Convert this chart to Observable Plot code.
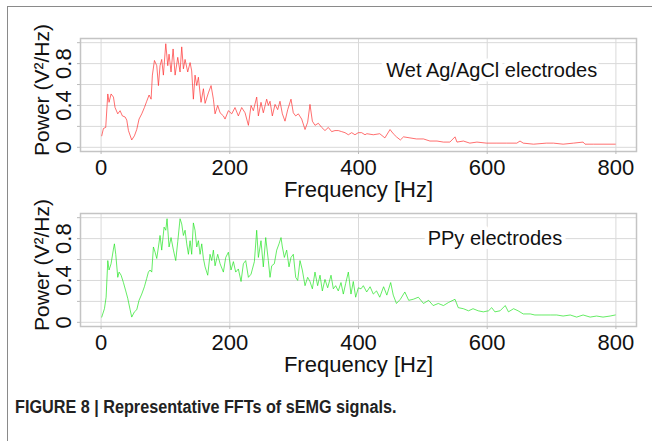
<!DOCTYPE html>
<html>
<head>
<meta charset="utf-8">
<script src="https://cdn.jsdelivr.net/npm/d3@7"></script>
<script src="https://cdn.jsdelivr.net/npm/@observablehq/plot@0.6"></script>
<style>
  html, body { margin: 0; padding: 0; background: #fff; }
  #page { position: relative; width: 652px; height: 441px; overflow: hidden; background: #fff; }
  #border { position: absolute; left: 7px; top: 6px; width: 700px; height: 500px;
            border-left: 1.5px solid #8a8a8a; border-top: 1.5px solid #8a8a8a; }
  .panel { position: absolute; left: 0; }
  #caption { position: absolute; left: 15px; top: 397px; font-family: "Liberation Sans Narrow", "Arial Narrow", "Liberation Sans", Arial, sans-serif;
             font-weight: bold; font-size: 18px; line-height: 1.117; color: #222; white-space: nowrap;
             transform: scaleX(0.9); transform-origin: left top; }
</style>
</head>
<body>
<div id="page">
  <div id="border"></div>
  <div id="p1" class="panel" style="top:0px"></div>
  <div id="p2" class="panel" style="top:175px"></div>
  <div id="caption">FIGURE 8 | Representative FFTs of sEMG signals.</div>
</div>
<script>
// ---- data ----
const wetFreq = [1.0,3.6,7.2,10.4,12.4,15.5,19.2,21.7,25.9,29.5,33.1,37.3,39.9,42.5,47.6,51.8,55.4,59.0,63.2,67.3,70.9,74.6,77.7,79.7,82.9,86.5,89.1,91.6,94.2,96.8,100.5,103.6,105.6,108.7,111.9,115.0,119.1,122.7,125.3,127.9,130.5,134.6,138.3,140.8,143.4,146.0,148.6,151.2,155.3,159.0,161.6,166.7,170.9,174.5,177.1,181.2,184.9,190.0,
  192.6,197.8,203.0,208.1,213.3,218.5,223.7,228.9,233.0,236.6,241.8,244.4,248.5,252.1,257.3,259.9,262.5,266.1,270.3,274.4,278.0,281.7,285.8,290.0,295.1,298.7,302.4,306.5,311.7,316.9,321.0,324.6,328.3,332.4,337.6,342.8,347.9,353.1,358.3,363.5,368.6,373.8,379.0,384.2,389.4,394.5,399.7,404.9,410.1,
  413,423,433,441,449,454,459,465,470,480,490,501,511,522,532,542,550,553,563,573,584,599,615,630,646,651,656,672,692,703,718,734,749,752,765,780,799];
const wetPower = [0.11,0.18,0.19,0.51,0.43,0.51,0.48,0.38,0.32,0.35,0.30,0.29,0.26,0.16,0.07,0.11,0.17,0.27,0.32,0.38,0.44,0.50,0.46,0.69,0.83,0.78,0.59,0.78,0.84,0.69,0.99,0.78,0.89,0.72,0.94,0.69,0.86,0.72,0.96,0.75,0.84,0.72,0.81,0.73,0.46,0.69,0.59,0.67,0.43,0.56,0.42,0.52,0.59,0.46,0.32,0.40,0.33,0.30,
  0.27,0.35,0.32,0.38,0.30,0.38,0.33,0.21,0.40,0.35,0.48,0.30,0.43,0.33,0.46,0.40,0.44,0.30,0.41,0.36,0.44,0.32,0.25,0.36,0.46,0.33,0.30,0.32,0.27,0.17,0.24,0.41,0.25,0.21,0.23,0.19,0.16,0.19,0.15,0.16,0.16,0.15,0.14,0.12,0.14,0.12,0.14,0.14,0.12,
  0.13,0.12,0.13,0.09,0.17,0.13,0.10,0.07,0.10,0.09,0.08,0.08,0.06,0.06,0.05,0.05,0.10,0.05,0.06,0.04,0.05,0.04,0.04,0.04,0.04,0.06,0.04,0.03,0.04,0.04,0.03,0.04,0.05,0.03,0.03,0.03,0.03];

const ppyFreq = [1.0,5.2,7.8,10.4,12.4,15.5,19.2,20.7,22.8,25.9,28.0,31.1,34.7,38.3,41.4,45.1,47.6,51.8,55.4,59.0,63.2,67.3,70.9,73.5,76.1,78.7,81.3,83.9,86.5,89.1,91.6,94.2,97.9,100.5,102.5,105.6,108.7,112.4,116.0,119.1,122.7,125.3,127.9,130.5,133.1,135.7,138.3,140.8,143.4,146.0,148.6,151.2,153.8,156.4,159.0,161.6,165.7,169.3,171.9,174.5,177.1,181.2,184.9,190.0,193.7,
  197.8,201.9,205.6,209.2,213.3,217.5,221.1,224.7,228.9,233.0,238.2,241.8,244.4,248.5,252.1,255.8,259.9,262.5,265.1,269.2,272.9,276.5,279.6,281.7,284.8,288.4,292.0,295.1,298.7,302.4,305.5,309.1,312.7,316.9,321.0,324.6,328.3,332.4,336.5,340.2,343.8,347.9,352.1,357.3,360.9,364.5,368.6,372.8,376.4,380.0,384.2,388.3,391.9,395.6,399.7,403.9,407.5,412.7,
  418,423,428,433,439,444,450,454,459,465,472,478,485,493,501,509,516,524,532,540,550,555,563,571,578,586,594,602,607,612,620,628,633,641,648,656,667,674,685,698,708,718,729,739,749,760,770,780,791,799];
const ppyPower = [0.05,0.13,0.24,0.59,0.50,0.56,0.70,0.75,0.65,0.43,0.48,0.45,0.38,0.30,0.23,0.12,0.05,0.10,0.12,0.21,0.27,0.34,0.42,0.48,0.50,0.48,0.72,0.67,0.61,0.72,0.83,0.69,0.91,0.88,0.99,0.72,0.81,0.69,0.59,0.77,0.99,0.94,0.83,0.88,0.75,0.65,0.78,0.65,0.95,0.88,0.72,0.78,0.65,0.75,0.61,0.53,0.45,0.65,0.59,0.69,0.54,0.65,0.56,0.48,0.62,
  0.67,0.50,0.58,0.48,0.51,0.39,0.56,0.59,0.43,0.46,0.58,0.88,0.62,0.78,0.53,0.81,0.59,0.43,0.54,0.56,0.69,0.75,0.81,0.72,0.62,0.69,0.53,0.62,0.65,0.43,0.40,0.59,0.50,0.35,0.43,0.39,0.32,0.48,0.35,0.45,0.30,0.41,0.33,0.45,0.32,0.35,0.30,0.38,0.27,0.37,0.48,0.27,0.39,0.24,0.33,0.32,0.35,0.29,
  0.34,0.27,0.30,0.24,0.34,0.26,0.38,0.26,0.18,0.22,0.29,0.21,0.22,0.24,0.18,0.21,0.16,0.18,0.16,0.19,0.22,0.14,0.13,0.11,0.13,0.11,0.10,0.11,0.14,0.10,0.11,0.16,0.10,0.13,0.11,0.08,0.08,0.07,0.07,0.07,0.07,0.06,0.07,0.05,0.07,0.05,0.06,0.05,0.06,0.07];

const xTicks = [0, 200, 400, 600, 800];
const yGrid = [0, 0.2, 0.4, 0.6, 0.8, 1.0];
const yTickLabels = [0, 0.4, 0.8];
const panelLabels = ["Wet Ag/AgCl electrodes", "PPy electrodes"];
const labelFreq = [607, 612];
const labelPower = [0.73, 0.80];
const xTitle = "Frequency [Hz]";
const yTitle = "Power (V²/Hz)";

const FONT = "'Liberation Sans', Arial, Helvetica, sans-serif";

function panel(freq, power, color, i) {
  const data = freq.map((f, k) => ({f, p: power[k]}));
  return Plot.plot({
    width: 652, height: 175,
    marginLeft: 80, marginRight: 16, marginTop: 38, marginBottom: 24,
    x: {domain: [-32, 832]},
    y: {domain: [-0.04, 1.04]},
    style: {overflow: "visible", background: "transparent", fontFamily: FONT, color: "#111"},
    marks: [
      Plot.ruleX(xTicks, {x: d => d, stroke: "#d9d9d9", strokeWidth: 1}),
      Plot.ruleY(yGrid, {y: d => d, stroke: "#d9d9d9", strokeWidth: 1}),
      Plot.text([panelLabels[i]], {x: () => labelFreq[i], y: () => labelPower[i], text: d => d,
        fontSize: 20, fill: "#111", stroke: "white", strokeWidth: 9, paintOrder: "stroke", lineAnchor: "middle"}),
      Plot.line(data, {x: "f", y: "p", stroke: color, strokeWidth: 0.7}),
      Plot.frame({stroke: "#c4c4c4", strokeWidth: 1.5}),
      Plot.axisX(xTicks, {tickSize: 3, tickFormat: () => "", label: null, stroke: "#bbb"}),
      Plot.axisY(yGrid, {tickSize: 3, tickFormat: () => "", label: null, stroke: "#bbb"}),
      Plot.text(xTicks, {x: d => d, frameAnchor: "bottom", dy: 16, text: d => String(d), fontSize: 22, textAnchor: "middle", lineAnchor: "middle", fill: "#111"}),
      Plot.text(yTickLabels, {y: d => d, frameAnchor: "left", dx: -17, rotate: -90, text: d => d === 0 ? "0" : String(d), fontSize: 22, textAnchor: "middle", lineAnchor: "middle", fill: "#111"}),
      Plot.text([yTitle], {frameAnchor: "left", dx: -38, dy: -5, rotate: -90, text: d => d, fontSize: 21, textAnchor: "middle", lineAnchor: "middle", fill: "#111"}),
      Plot.text([xTitle], {frameAnchor: "bottom", dy: 38, text: d => d, fontSize: 22, textAnchor: "middle", lineAnchor: "middle", fill: "#111"})
    ]
  });
}

document.getElementById("p1").appendChild(panel(wetFreq, wetPower, "#ff3030", 0));
document.getElementById("p2").appendChild(panel(ppyFreq, ppyPower, "#22e422", 1));
</script>
</body>
</html>
